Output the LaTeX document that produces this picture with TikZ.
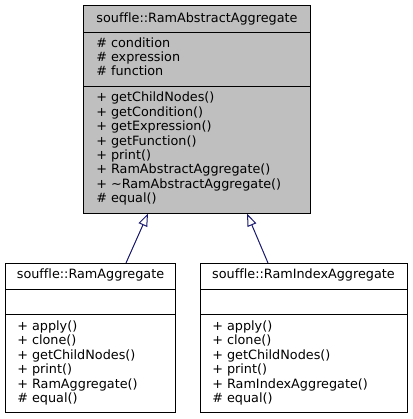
\documentclass[tikz,border=0pt]{standalone}
\usepackage{fontspec}
\setmainfont{DejaVu Sans}[Ligatures=NoCommon]
\usetikzlibrary{arrows.meta}
\definecolor{boxgray}{RGB}{191,191,191}
\definecolor{edgeblue}{RGB}{25,25,112}
\begin{document}
\begin{tikzpicture}[x=0.75pt,y=-0.75pt,
  umlbox/.style={draw=black,line width=0.75pt,rectangle,inner sep=0pt},
  divider/.style={draw=black,line width=0.75pt},
  txt/.style={anchor=base west,inner sep=0pt,font=\fontsize{9.6pt}{11pt}\selectfont},
  ttl/.style={anchor=base,inner sep=0pt,font=\fontsize{9.6pt}{11pt}\selectfont},
  inherit/.style={draw=edgeblue,line width=0.75pt,-{Triangle[open,length=9.5pt,width=7pt]}}]
\useasboundingbox (0,0) rectangle (413,419);
% top box
\node[umlbox,fill=boxgray,minimum width=226*0.75pt,minimum height=208.5*0.75pt] (top) at (197,109.25) {};
\draw[divider] (84,32) -- (310,32);
\draw[divider] (84,86) -- (310,86);
\node[ttl] (t0) at (197,22) {souffle::RamAbstractAggregate};
\node[txt] (t1) at (96,47) {\# condition};
\node[txt] (t2) at (96,61.4) {\# expression};
\node[txt] (t3) at (96,75.9) {\# function};
\node[txt] (m1) at (96,101.8) {+ getChildNodes()};
\node[txt] (m2) at (96,116.2) {+ getCondition()};
\node[txt] (m3) at (96,130.6) {+ getExpression()};
\node[txt] (m4) at (96,145.1) {+ getFunction()};
\node[txt] (m5) at (96,159.5) {+ print()};
\node[txt] (m6) at (96,173.9) {+ RamAbstractAggregate()};
\node[txt] (m7) at (96,188.4) {+ \char"007ERamAbstractAggregate()};
\node[txt] (m8) at (96,202.8) {\# equal()};
% left box
\node[umlbox,fill=white,minimum width=171*0.75pt,minimum height=149.5*0.75pt] (left) at (90.5,337.75) {};
\draw[divider] (5,289) -- (176,289);
\draw[divider] (5,314) -- (176,314);
\node[ttl] (l0) at (90.5,278) {souffle::RamAggregate};
\node[txt] (l1) at (17,330) {+ apply()};
\node[txt] (l2) at (17,344.5) {+ clone()};
\node[txt] (l3) at (17,359) {+ getChildNodes()};
\node[txt] (l4) at (17,373.5) {+ print()};
\node[txt] (l5) at (17,388) {+ RamAggregate()};
\node[txt] (l6) at (17,402.5) {\# equal()};
% right box
\node[umlbox,fill=white,minimum width=207*0.75pt,minimum height=149.5*0.75pt] (right) at (303.5,337.75) {};
\draw[divider] (200,289) -- (407,289);
\draw[divider] (200,314) -- (407,314);
\node[ttl] (r0) at (303.5,278) {souffle::RamIndexAggregate};
\node[txt] (r1) at (212,330) {+ apply()};
\node[txt] (r2) at (212,344.5) {+ clone()};
\node[txt] (r3) at (212,359) {+ getChildNodes()};
\node[txt] (r4) at (212,373.5) {+ print()};
\node[txt] (r5) at (212,388) {+ RamIndexAggregate()};
\node[txt] (r6) at (212,402.5) {\# equal()};
% connectors
\coordinate (ls) at (126,263);
\coordinate (lt) at (148,213.5);
\coordinate (rs) at (268,263);
\coordinate (rt) at (247,213.5);
\draw[inherit] (ls) -- (lt);
\draw[inherit] (rs) -- (rt);
\end{tikzpicture}
\end{document}
